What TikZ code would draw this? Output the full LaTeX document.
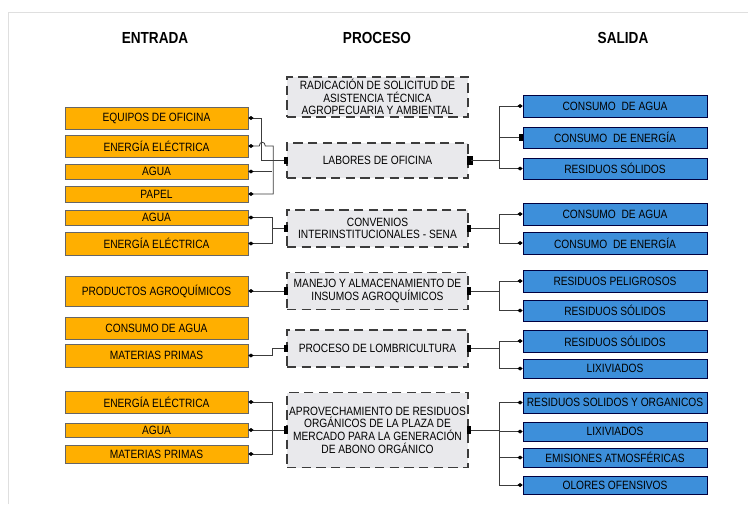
\documentclass[tikz,border=0pt]{standalone}
\usepackage{fontspec}
\setmainfont[FakeStretch=0.85]{Liberation Sans}
\usetikzlibrary{arrows.meta}
\definecolor{naranja}{HTML}{FFAF00}
\definecolor{azul}{HTML}{3D8FDA}
\definecolor{grisclaro}{HTML}{E9E9EC}
\definecolor{linea}{HTML}{3C3C3C}
\tikzstyle{titulo}=[font=\fontsize{12}{12}\bfseries\selectfont]
\tikzstyle{entrada}=[draw=black!60, fill=naranja, inner sep=0pt, minimum width=137.25pt, font=\fontsize{9}{9.5}\selectfont]
\tikzstyle{salida}=[draw=black!75!blue, fill=azul, inner sep=0pt, minimum width=138pt, font=\fontsize{9}{9.5}\selectfont]
\tikzstyle{proceso}=[draw=linea, fill=grisclaro, line width=1.4pt, dash pattern=on 7pt off 4pt, inner sep=0pt, minimum width=135.75pt, align=center, font=\fontsize{9}{9.5}\selectfont]
\tikzstyle{conin}=[draw=linea, line width=0.6pt, shorten <=-1.3pt, {Square[length=2.6pt,width=5.5pt,black]}-{Diamond[length=4pt,width=3pt,black]}]
\tikzstyle{conout}=[draw=linea, line width=0.6pt, shorten <=-1.3pt, {Square[length=2.6pt,width=5.5pt,black]}-{Diamond[length=4pt,width=3pt,black]}]
\tikzstyle{bus}=[draw=linea, line width=0.6pt, {Diamond[length=4pt,width=3pt,black]}-{Diamond[length=4pt,width=3pt,black]}]
\tikzstyle{ramal}=[draw=linea, line width=0.6pt, -{Diamond[length=4pt,width=3pt,black]}]

\begin{document}
\begin{tikzpicture}[x=0.75pt, y=-0.75pt]
	\useasboundingbox (0,0) rectangle (748,504);
	\draw[gray!25] (8,504) -- (8,12) -- (748,12);
	% titulos
	\node[titulo] (tent) at (155,38) {ENTRADA};
	\node[titulo] (tpro) at (377,38) {PROCESO};
	\node[titulo] (tsal) at (623,38) {SALIDA};
	% entradas
	\node[entrada, minimum height=16.5pt] (e1) at (156.5,118) {EQUIPOS DE OFICINA};
	\node[entrada, minimum height=16.5pt] (e2) at (156.5,146) {ENERGÍA ELÉCTRICA};
	\node[entrada, minimum height=11.25pt] (e3) at (156.5,171.5) {AGUA};
	\node[entrada, minimum height=12pt] (e4) at (156.5,194) {PAPEL};
	\node[entrada, minimum height=11.25pt] (e5) at (156.5,217.5) {AGUA};
	\node[entrada, minimum height=17.25pt] (e6) at (156.5,243.5) {ENERGÍA ELÉCTRICA};
	\node[entrada, minimum height=22.5pt] (e7) at (156.5,291) {PRODUCTOS AGROQUÍMICOS};
	\node[entrada, minimum height=16.5pt] (e8) at (156.5,328) {CONSUMO DE AGUA};
	\node[entrada, minimum height=17.25pt] (e9) at (156.5,355.5) {MATERIAS PRIMAS};
	\node[entrada, minimum height=16.5pt] (e10) at (156.5,402) {ENERGÍA ELÉCTRICA};
	\node[entrada, minimum height=10.5pt] (e11) at (156.5,430) {AGUA};
	\node[entrada, minimum height=13.5pt] (e12) at (156.5,454) {MATERIAS PRIMAS};
	% procesos
	\node[proceso, minimum height=30pt] (p1) at (377.5,97) {RADICACIÓN DE SOLICITUD DE\\ASISTENCIA TÉCNICA\\AGROPECUARIA Y AMBIENTAL};
	\node[proceso, minimum height=26.25pt] (p2) at (377.5,160.5) {LABORES DE OFICINA};
	\node[proceso, minimum height=27.75pt] (p3) at (377.5,228.5) {CONVENIOS\\INTERINSTITUCIONALES - SENA};
	\node[proceso, minimum height=27.75pt] (p4) at (377.5,291) {MANEJO Y ALMACENAMIENTO DE\\INSUMOS AGROQUÍMICOS};
	\node[proceso, minimum height=27.75pt] (p5) at (377.5,348.5) {PROCESO DE LOMBRICULTURA};
	\node[proceso, minimum height=56.25pt] (p6) at (377.5,430) {APROVECHAMIENTO DE RESIDUOS\\ORGÁNICOS DE LA PLAZA DE\\MERCADO PARA LA GENERACIÓN\\DE ABONO ORGÁNICO};
	% salidas
	\node[salida, minimum height=16.5pt] (s1) at (615,106) {CONSUMO~ DE AGUA};
	\node[salida, minimum height=15.75pt] (s2) at (615,137.5) {CONSUMO~ DE ENERGÍA};
	\node[salida, minimum height=15.75pt] (s3) at (615,168.5) {RESIDUOS SÓLIDOS};
	\node[salida, minimum height=16.5pt] (s4) at (615,214) {CONSUMO~ DE AGUA};
	\node[salida, minimum height=16.5pt] (s5) at (615,243) {CONSUMO~ DE ENERGÍA};
	\node[salida, minimum height=16.5pt] (s6) at (615,281) {RESIDUOS PELIGROSOS};
	\node[salida, minimum height=15.75pt] (s7) at (615,310.5) {RESIDUOS SÓLIDOS};
	\node[salida, minimum height=16.5pt] (s8) at (615,341) {RESIDUOS SÓLIDOS};
	\node[salida, minimum height=14.25pt] (s9) at (615,368.5) {LIXIVIADOS};
	\node[salida, minimum height=15.75pt] (s10) at (615,402.5) {RESIDUOS SOLIDOS Y ORGANICOS};
	\node[salida, minimum height=14.25pt] (s11) at (615,431.5) {LIXIVIADOS};
	\node[salida, minimum height=14.25pt] (s12) at (615,457.5) {EMISIONES ATMOSFÉRICAS};
	\node[salida, minimum height=13.5pt] (s13) at (615,485) {OLORES OFENSIVOS};
	% conexiones de entrada
	\draw[conin] (p2.west) -- ++(-25,0) |- (e1.east);
	\draw[bus] (e2.east) -- ++(11,0) .. controls +(0,-5) and +(0,-5) .. ++(6,0) -- ++(8,0) |- (e4.east);
	\draw[ramal] (e3.east -| p2.west) ++(-14,0) -- (e3.east);
	\draw[conin] (p3.west) -- ++(-14,0) |- (e5.east);
	\draw[conin] (p3.west) -- ++(-14,0) |- (e6.east);
	\draw[conin] (p4.west) -- (e7.east);
	\draw[conin] (p5.west) -- ++(-14,0) |- (e9.east);
	\draw[conin] (p6.west) -- ++(-14,0) |- (e10.east);
	\draw[conin] (p6.west) -- (e11.east);
	\draw[conin] (p6.west) -- ++(-14,0) |- (e12.east);
	% conexiones de salida
	\draw[conout] (p2.east) -- ++(30,0) |- (s1.west);
	\draw[conout, {Square[length=4pt,width=6.5pt,black]}-{Square[length=3pt,width=5pt,black]}] (p2.east) -- ++(30,0) |- (s2.west);
	\draw[conout] (p2.east) -- ++(30,0) |- (s3.west);
	\draw[conout] (p3.east) -- ++(30,0) |- (s4.west);
	\draw[conout] (p3.east) -- ++(30,0) |- (s5.west);
	\draw[conout] (p4.east) -- ++(30,0) |- (s6.west);
	\draw[conout] (p4.east) -- ++(30,0) |- (s7.west);
	\draw[conout] (p5.east) -- ++(30,0) |- (s8.west);
	\draw[conout] (p5.east) -- ++(30,0) |- (s9.west);
	\draw[conout] (p6.east) -- ++(30,0) |- (s10.west);
	\draw[conout] (p6.east) -- ++(30,0) |- (s11.west);
	\draw[conout] (p6.east) -- ++(30,0) |- (s12.west);
	\draw[conout] (p6.east) -- ++(30,0) |- (s13.west);
\end{tikzpicture}
\end{document}
